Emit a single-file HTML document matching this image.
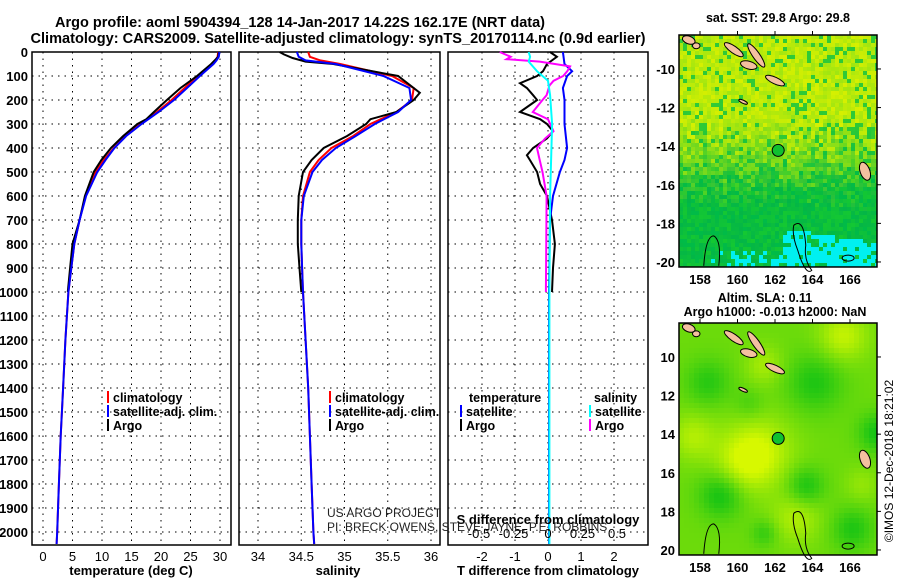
<!DOCTYPE html>
<html><head><meta charset="utf-8"><style>
body{margin:0;background:#fff}
svg{display:block;font-family:"Liberation Sans",sans-serif}
.b{font-weight:bold}
</style></head><body>
<svg id="c" width="900" height="580" viewBox="0 0 900 580">
<rect width="900" height="580" fill="#fff"/>
<text class="b" x="300" y="27" font-size="14.5" text-anchor="middle">Argo profile: aoml 5904394_128 14-Jan-2017 14.22S 162.17E (NRT data)</text>
<text class="b" x="338" y="43" font-size="14.5" text-anchor="middle" textLength="615" lengthAdjust="spacingAndGlyphs">Climatology: CARS2009. Satellite-adjusted climatology: synTS_20170114.nc (0.9d earlier)</text>
<g id="g"></g>
</svg>
<script>
// ---- data ----
const climDepths=[0,20,35,50,100,150,200,250,300,350,400,450,500,600,700,800,900,1000,1200,1400,1600,1800,2000,2050];
const tempClim=[29.7,29.6,29.2,28.6,26.2,24.0,21.8,19.3,16.5,14.0,12.0,10.3,8.9,7.2,6.2,5.3,4.8,4.3,3.8,3.4,3.0,2.7,2.4,2.3];
const tempSat=[29.9,29.8,29.4,28.9,26.6,24.4,22.2,19.6,16.7,14.1,12.1,10.6,9.2,7.3,6.2,5.3,4.8,4.3,3.8,3.4,3.0,2.7,2.4,2.3];
const argoDepths=[0,20,50,100,150,200,250,280,300,350,400,450,500,600,700,800,900,1000];
const tempArgo=[29.8,29.7,28.5,26.1,23.3,21.0,18.8,17.5,16.0,13.6,11.5,9.9,8.6,7.1,6.2,5.0,4.6,4.2];
const salClim=[34.58,34.6,34.72,34.95,35.55,35.8,35.78,35.6,35.3,35.1,34.85,34.7,34.6,34.52,34.5,34.5,34.51,34.52,34.55,34.58,34.6,34.62,34.64,34.65];
const salSat=[34.45,34.47,34.55,34.9,35.45,35.75,35.77,35.62,35.35,35.13,34.9,34.74,34.63,34.53,34.5,34.5,34.51,34.52,34.55,34.58,34.6,34.62,34.64,34.65];
const argoSalDepths=[0,10,25,40,50,100,150,170,200,250,280,300,350,400,450,500,600,700,800,900,1000];
const salArgo=[34.25,34.3,34.4,34.55,34.87,35.62,35.8,35.87,35.8,35.6,35.3,35.25,35.03,34.76,34.62,34.52,34.47,34.46,34.46,34.48,34.5];
const tdDepths=[0,20,50,80,100,130,150,180,200,250,280,300,330,360,400,430,450,500,550,600,700,800,900,1000];
const tDiffArgo=[0.06,0.27,-0.03,-0.15,-0.33,-0.85,-0.64,-0.45,-0.33,-0.85,-0.24,-0.03,0.15,-0.03,-0.45,-0.64,-0.55,-0.33,-0.24,-0.03,0.12,0.21,0.15,0.12];
const tsDepths=[0,50,80,100,150,200,300,400,450,500,600,700,1000,1500,2050];
const tDiffSat=[0.45,0.5,0.73,0.58,0.45,0.5,0.5,0.58,0.5,0.36,0.15,0.06,0.03,0.03,0.03];
const sdDepths=[0,20,30,40,60,80,100,120,140,180,200,250,280,330,360,400,450,500,600,1000];
const sDiffArgo=[-0.35,-0.27,-0.3,-0.06,0.16,0.14,0.11,0.04,0.01,-0.01,-0.04,-0.11,0,0.04,-0.02,-0.08,-0.06,-0.04,-0.01,-0.015];
const ssDepths=[0,20,40,80,120,180,300,600,1000,2050];
const sDiffSat=[-0.14,-0.13,-0.14,-0.08,0,0.015,0.03,0.015,0.01,0.01];
const depthTicks=[0,100,200,300,400,500,600,700,800,900,1000,1100,1200,1300,1400,1500,1600,1700,1800,1900,2000];
const tempTicks=[0,5,10,15,20,25,30];
const salTicks=[34,34.5,35,35.5,36];
const tdTicks=[-2,-1,0,1,2];
const sdTicks=[-0.5,-0.25,0,0.25,0.5];
const lonTicks=[158,160,162,164,166];
const latTicks=[-10,-12,-14,-16,-18,-20];
const argoLon=162.17, argoLat=-14.22;

const NS='http://www.w3.org/2000/svg';
const G=document.getElementById('g');
function el(tag,at,parent){const e=document.createElementNS(NS,tag);for(const k in at)e.setAttribute(k,at[k]);(parent||G).appendChild(e);return e;}
function txt(x,y,s,size,anchor,bold,parent){const t=el('text',{x:x,y:y,'font-size':size,'text-anchor':anchor||'start','font-weight':bold?'bold':'normal'},parent);t.textContent=s;return t;}
const Y=d=>52+d*0.24;
const xT=v=>43+v*5.9, xS=v=>258+(v-34)*86.5, xTD=v=>548+v*33, xSD=v=>548+v*138;
const TOP=52,BOT=545;
function panel(l,r,name){
  const g=el('g',{});
  
  
  el('rect',{x:l,y:TOP,width:r-l,height:BOT-TOP,fill:'#fff',stroke:'#000','stroke-width':1.5},g);
  depthTicks.forEach(d=>{el('line',{x1:l,x2:r,y1:Y(d),y2:Y(d),stroke:'#000','stroke-width':1,'stroke-dasharray':'1.5,5'},g);});
  return g;
}
function vgrid(g,ticks,f){ticks.forEach(v=>el('line',{x1:f(v),x2:f(v),y1:TOP,y2:BOT,stroke:'#000','stroke-width':1,'stroke-dasharray':'1.5,5'},g));}
function prof(g,depths,vals,f,color,w,name){
  const p=el('polyline',{points:depths.map((d,i)=>f(vals[i]).toFixed(1)+','+Y(d).toFixed(1)).join(' '),fill:'none',stroke:color,'stroke-width':w},g);
  
  
}
const p1=panel(32,231,'temperature-panel');vgrid(p1,tempTicks,xT);
prof(p1,climDepths,tempClim,xT,'#f00',2,'temp-climatology-line');
prof(p1,argoDepths,tempArgo,xT,'#000',2,'temp-argo-line');
prof(p1,climDepths,tempSat,xT,'#00f',2,'temp-satellite-line');
const p2=panel(239,440,'salinity-panel');vgrid(p2,salTicks,xS);
prof(p2,climDepths,salClim,xS,'#f00',2,'sal-climatology-line');
prof(p2,argoSalDepths,salArgo,xS,'#000',2,'sal-argo-line');
prof(p2,climDepths,salSat,xS,'#00f',2,'sal-satellite-line');
const p3=panel(448,648,'difference-panel');vgrid(p3,tdTicks,xTD);
prof(p3,tdDepths,tDiffArgo,xTD,'#000',2,'tdiff-argo-line');
prof(p3,tsDepths,tDiffSat,xTD,'#00f',2,'tdiff-satellite-line');
prof(p3,sdDepths,sDiffArgo,xSD,'#f0f',2,'sdiff-argo-line');
prof(p3,ssDepths,sDiffSat,xSD,'#0ff',2,'sdiff-satellite-line');
depthTicks.forEach(d=>{const t=txt(28,Y(d)+5,String(d),13,'end',true);});
tempTicks.forEach(v=>{const t=txt(xT(v),561,String(v),13,'middle',false);});
salTicks.forEach(v=>{const t=txt(xS(v),561,String(v),13,'middle',false);});
tdTicks.forEach(v=>{const t=txt(xTD(v),561,String(v),13,'middle',false);});
sdTicks.forEach(v=>{const t=txt(xSD(v),538,String(v),13,'middle',false);});
let t;
t=txt(131,575,'temperature (deg C)',13,'middle',true);
t=txt(338,575,'salinity',13,'middle',true);
t=txt(548,575,'T difference from climatology',13,'middle',true);
t=txt(548,524,'S difference from climatology',13,'middle',true);
t=txt(327,517,'US ARGO PROJECT',12,'start',false);t.setAttribute('fill','#222');
t=txt(327,531,'PI: BRECK OWENS, STEVE JAYNE, P.E. ROBBINS',12,'start',false);t.setAttribute('fill','#222');
function leg(x,y,color,label,name){const g=el('g',{});
  if(color)el('rect',{x:x,y:y-11,width:2,height:12,fill:color},g);txt(x+6,y,label,12.5,'start',true,g);}
leg(107,402,'#f00','climatology','legend-temp-climatology');
leg(107,416,'#00f','satellite-adj. clim.','legend-temp-satellite');
leg(107,430,'#000','Argo','legend-temp-argo');
leg(329,402,'#f00','climatology','legend-sal-climatology');
leg(329,416,'#00f','satellite-adj. clim.','legend-sal-satellite');
leg(329,430,'#000','Argo','legend-sal-argo');
leg(463,402,null,'temperature','legend-temp-header');
leg(460,416,'#00f','satellite','legend-tdiff-satellite');
leg(460,430,'#000','Argo','legend-tdiff-argo');
leg(588,402,null,'salinity','legend-sal-header');
leg(589,416,'#0ff','satellite','legend-sdiff-satellite');
leg(589,430,'#f0f','Argo','legend-sdiff-argo');

// ---- maps (background texture only) ----
let seed=123456789;
function rnd(){seed^=seed<<13;seed^=seed>>>17;seed^=seed<<5;return (seed>>>0)/4294967296;}
function mix(a,b,t){return a.map((v,i)=>Math.round(v+(b[i]-v)*t));}
function rgb(c){return 'rgb('+c.join(',')+')';}
const blobs=[[161,-14.8,0.5,1.8],[160,-15.5,0.3,1.5],[159,-17,-0.5,1.2],[163.5,-16.6,-0.45,1.0],[164,-11.2,-0.4,1.5],[158.3,-11.2,-0.35,1.2],[166,-18.8,-0.4,1.1],[167.3,-13.8,-0.45,1.0],[165.5,-8.8,0.45,1.3],[163,-18.2,0.35,1.3],[161.3,-19,-0.3,0.7],[161.3,-10.3,0.3,1],[157.5,-14,0.35,1.2],[160.5,-12.3,-0.2,0.8],[166.5,-16.5,0.2,0.9]];
function map(top,latTop,latBot,kind,name,lblMinus){
  const L=679,R=877,B=top+(latTop-latBot)*19.3;
  const lonX=lon=>700+(lon-158)*18.75, latY=lat=>top+(latTop-lat)*19.3;
  const g=el('g',{});
  const cs=kind==='sst'?4:5;
  for(let x=L;x<R;x+=cs){for(let y=top;y<B;y+=cs){
    const lon=158+(x-700)/18.75, lat=latTop-(y-top)/19.3;
    let c;
    const w=Math.min(cs+0.3,R-x), h=Math.min(cs+0.3,B-y);
    if(kind==='sst'){
      const r=rnd(), r2=rnd(), r3=rnd();
      const yel=[215,240,0],lg=[150,228,20],gr=[20,200,50],dg=[0,178,75];
      let f=Math.min(1,Math.max(0,(-lat-13)/3.5+(r2-0.5)*0.6));
      let base=mix(mix(yel,lg,r),mix(gr,dg,r),f);
      if(r>0.85)base=mix(base,[0,190,70],0.7);
      const cy=-18.2-(lon-162.5)*0.15;
      if(lon>162.3&&lat<cy&&r3<0.8)base=[0,240,240];
      if(lat<-19.3&&lon<162.3&&lon>158.5&&r3>0.55)base=[0,240,240];
      c=base;
    }else{
      let v=0.45;
      blobs.forEach(b=>{const dx=lon-b[0],dy=lat-b[1];v+=b[2]*Math.exp(-(dx*dx+dy*dy)/(b[3]*b[3]));});
      const t2=Math.min(1,Math.max(0,v));
      c=mix([20,195,20],[215,248,0],t2);
    }
    el('rect',{x:x,y:y,width:w,height:h,fill:rgb(c)},g);
  }}
  const isl=[[159.8,-9.0,0.6,0.18,35],[161.0,-9.3,0.75,0.18,55],[157.4,-8.5,0.35,0.2,20],[160.6,-9.8,0.45,0.2,15],[162.0,-10.6,0.55,0.17,25],[160.3,-11.7,0.25,0.08,25],[166.8,-15.3,0.5,0.25,70],[157.8,-8.8,0.2,0.15,0]];
  isl.forEach(a=>{el('ellipse',{cx:lonX(a[0]),cy:latY(a[1]),rx:a[2]*18.75,ry:a[3]*19.3,transform:`rotate(${a[4]} ${lonX(a[0])} ${latY(a[1])})`,fill:'#f4c0a0',stroke:'#000','stroke-width':1},g);});
  el('path',{d:`M${lonX(163)} ${latY(-18.1)} q10 -8 12 20 q-2 15 6 25 q-6 6 -14 -20 q-6 -15 -4 -25z`,fill:'none',stroke:'#000','stroke-width':1},g);
  el('path',{d:`M${lonX(158.2)} ${latY(-20.2)} q2 -30 10 -30 q8 5 5 30`,fill:'none',stroke:'#000','stroke-width':1},g);
  el('ellipse',{cx:lonX(165.9),cy:latY(-19.8),rx:6,ry:3,fill:'none',stroke:'#000'},g);
  el('rect',{x:L,y:top,width:R-L,height:B-top,fill:'none',stroke:'#000','stroke-width':1.5},g);
  lonTicks.forEach(v=>{el('line',{x1:lonX(v),x2:lonX(v),y1:top,y2:top-4,stroke:'#000'},g);
    const tt=txt(lonX(v),B+17,String(v),13,'middle',true,g);});
  latTicks.forEach(v=>{el('line',{x1:R,x2:R+4,y1:latY(v),y2:latY(v),stroke:'#000'},g);
    const tt=txt(675,latY(v)+5,lblMinus?String(v):String(-v),13,'end',true,g);});
  const m=el('circle',{cx:lonX(argoLon),cy:latY(argoLat),r:6,fill:'#10c030',stroke:'#000','stroke-width':1},g);
  
  
}
map(35,-8.24,-20.26,'sst','sst-map',true);
map(323,-8.24,-20.26,'sla','sla-map',false);
t=txt(778,22,'sat. SST: 29.8 Argo: 29.8',12.5,'middle',true);
t=txt(765,302,'Altim. SLA: 0.11',12.5,'middle',true);
t=txt(775,316,'Argo h1000: -0.013 h2000: NaN',12.5,'middle',true);
t=txt(0,0,'©IMOS 12-Dec-2018 18:21:02',12,'middle',false);t.setAttribute('transform','translate(893,461) rotate(-90)');
</script>
</body></html>
